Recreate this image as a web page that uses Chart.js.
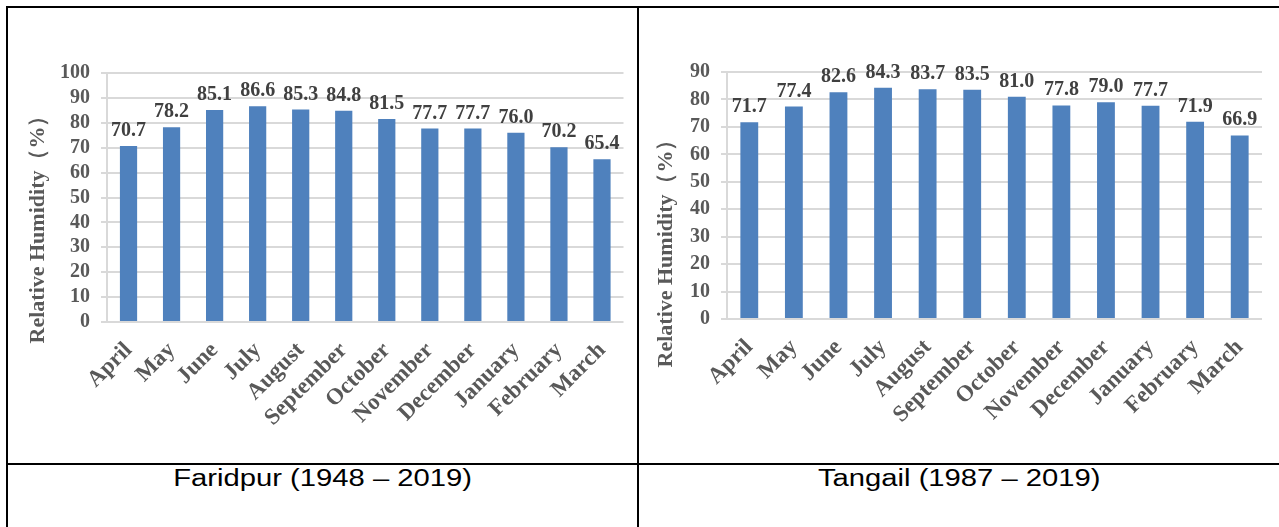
<!DOCTYPE html>
<html>
<head>
<meta charset="UTF-8">
<title>Relative Humidity</title>
<script src="https://cdn.jsdelivr.net/npm/chart.js@4.4.0/dist/chart.umd.min.js"></script>
<style>
body { margin:0; background:#fff; width:1279px; height:527px; position:relative; overflow:hidden; }
.line { position:absolute; background:#000; }
.box { position:absolute; }
.caption { position:absolute; top:467px; font-family:"Liberation Sans", Arial, sans-serif; font-size:23px; line-height:23px; text-align:center; color:#000; }
.caption span { display:inline-block; transform:scaleX(1.27); }
</style>
</head>
<body>
<div class="line" style="left:6px;top:6px;width:1273px;height:2px"></div>
<div class="line" style="left:6px;top:6px;width:2px;height:521px"></div>
<div class="line" style="left:637px;top:6px;width:2px;height:521px"></div>
<div class="line" style="left:6px;top:463px;width:1273px;height:2px"></div>

<div class="box" style="left:8px;top:8px;width:629px;height:455px"><canvas id="faridpur"></canvas></div>
<div class="box" style="left:639px;top:8px;width:640px;height:455px"><canvas id="tangail"></canvas></div>

<div class="caption" style="left:8px;width:629px"><span>Faridpur (1948 – 2019)</span></div>
<div class="caption" style="left:639px;width:640px"><span>Tangail (1987 – 2019)</span></div>

<script>
// monthly mean relative humidity (%)
const months = ['April', 'May', 'June', 'July', 'August', 'September', 'October', 'November', 'December', 'January', 'February', 'March'];
const faridpurRH = [70.7, 78.2, 85.1, 86.6, 85.3, 84.8, 81.5, 77.7, 77.7, 76.0, 70.2, 65.4];
const tangailRH = [71.7, 77.4, 82.6, 84.3, 83.7, 83.5, 81.0, 77.8, 79.0, 77.7, 71.9, 66.9];
const yTitle = 'Relative Humidity（%）';

const serif = '"Liberation Serif", "Times New Roman", serif';

// value on top of each bar
const valueLabels = {
	id: 'valueLabels',
	afterDatasetsDraw(chart) {
		const ctx = chart.ctx;
		const meta = chart.getDatasetMeta(0);
		const data = chart.data.datasets[0].data;
		ctx.save();
		ctx.font = 'bold 20px ' + serif;
		ctx.fillStyle = '#404040';
		ctx.textAlign = 'center';
		ctx.textBaseline = 'alphabetic';
		meta.data.forEach((bar, i) => ctx.fillText(data[i].toFixed(1), bar.x, bar.y - 10));
		ctx.restore();
	}
};

// y axis title, placed like the original (not centred on the plot)
const sideTitle = {
	id: 'sideTitle',
	afterDraw(chart, args, opts) {
		const ctx = chart.ctx;
		ctx.save();
		ctx.translate(opts.x, opts.y);
		ctx.rotate(-Math.PI / 2);
		ctx.font = 'bold 22px ' + serif;
		ctx.fillStyle = '#595959';
		ctx.textAlign = 'center';
		ctx.textBaseline = 'middle';
		ctx.fillText(opts.text, 0, 0);
		ctx.restore();
	}
};

function makeChart(id, values, yMax, geo) {
	return new Chart(document.getElementById(id), {
		type: 'bar',
		data: {
			labels: months,
			datasets: [{
				data: values,
				backgroundColor: '#4f81bd',
				barPercentage: 0.4,
				categoryPercentage: 1
			}]
		},
		options: {
			responsive: true,
			maintainAspectRatio: false,
			animation: false,
			layout: { padding: { top: geo.top, right: geo.right, left: 0, bottom: 0 } },
			plugins: {
				legend: { display: false },
				tooltip: { enabled: false },
				sideTitle: { text: yTitle, x: geo.titleX, y: geo.titleY }
			},
			scales: {
				x: {
					grid: { display: false, drawTicks: false },
					border: { display: false },
					ticks: {
						autoSkip: false,
						minRotation: 45,
						maxRotation: 45,
						padding: 15,
						color: '#595959',
						font: { family: serif, size: 23, weight: 'bold' }
					},
					afterFit: s => { s.height = geo.xHeight; }
				},
				y: {
					min: 0,
					max: yMax,
					ticks: {
						autoSkip: false,
						stepSize: 10,
						padding: 11,
						color: '#595959',
						font: { family: serif, size: 20, weight: 'bold' }
					},
					grid: { color: '#d9d9d9', lineWidth: 2, tickLength: 6 },
					border: { color: '#d9d9d9', width: 2 },
					afterFit: s => { s.width = geo.yWidth; }
				}
			}
		},
		plugins: [valueLabels, sideTitle]
	});
}

makeChart('faridpur', faridpurRH, 100, { top: 65, right: 12, yWidth: 99, xHeight: 141, titleX: 30, titleY: 216 });
makeChart('tangail', tangailRH, 90, { top: 64, right: 17, yWidth: 88, xHeight: 144, titleX: 27, titleY: 240 });
</script>
</body>
</html>
